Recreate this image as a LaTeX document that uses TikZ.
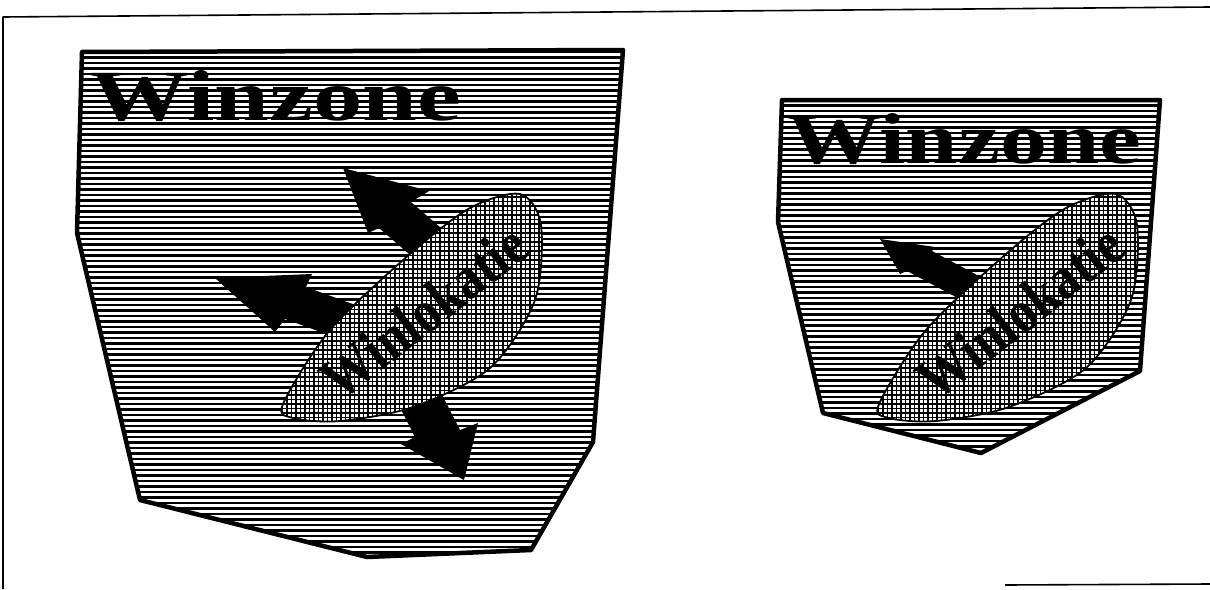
\documentclass[tikz,border=0pt]{standalone}
\usepackage{fontspec}
\newfontfamily\zonefont{Liberation Serif}

% outline of the location oval (left copy, in pixel units)
\newcommand{\lokshape}{plot[smooth cycle] coordinates {(283,404) (330,330) (410,254) (470,208) (520,194) (541,225) (535,300) (490,368) (413,407) (340,421) (293,418)}}

\begin{document}
\begin{tikzpicture}[x=1pt,y=-1pt,line join=round,
    rim/.style={line width=4.5pt},
    stripe/.style={line width=2.5pt},
    mesh/.style={line width=1.6pt},
    zonetext/.style={inner sep=0pt,anchor=base west,xscale=1.37,
      font=\zonefont\bfseries\fontsize{72}{72}\selectfont},
    loktext/.style={inner sep=0pt,rotate=38,xscale=0.86,
      font=\zonefont\bfseries\fontsize{60}{60}\selectfont}]

\useasboundingbox (0,0) rectangle (1210,589);

% ============================================
% Frame
% ============================================
\draw[line width=1.6pt] (3,589) -- (3,17) -- (1210,7);
\draw[line width=1.6pt] (1005,585) -- (1210,584);

% ============================================
% LEFT SIDE – LARGE ZONE WITH THREE ARROWS
% ============================================
        % Coordinates
        \coordinate (L1) at (82,52);
        \coordinate (L2) at (623,50);
        \coordinate (L3) at (593,442);
        \coordinate (L4) at (531,550);
        \coordinate (L5) at (367,557);
        \coordinate (L6) at (140,500);
        \coordinate (L7) at (77,233);
        % Striped fill
        \begin{scope}
          \clip (L1) -- (L2) -- (L3) -- (L4) -- (L5) -- (L6) -- (L7) -- cycle;
          \foreach \y in {52,57.5,...,562}
            \draw[stripe] (70,\y) -- (630,\y);
        \end{scope}
        \draw[rim] (L1) -- (L2) -- (L3) -- (L4) -- (L5) -- (L6) -- (L7) -- cycle;
        \node[zonetext] (zoneL) at (90,120) {Winzone};
        % Arrows (shafts end under the oval)
        \fill (343,168) -- (429,191) -- (411,202) -- (456,241)
              -- (424,267) -- (379,228) -- (368,233) -- cycle;
        \fill (215,278) -- (312,274) -- (306,287) -- (372,311)
              -- (351,343) -- (285,319) -- (275,332) -- cycle;
        \fill (464,480) -- (478,423) -- (460,430) -- (433,377)
              -- (388,384) -- (415,437) -- (401,444) -- cycle;
        % Location oval
        \fill[white] \lokshape;
        \begin{scope}
          \clip \lokshape;
          \foreach \x in {278,282.5,...,548}
            \draw[mesh] (\x,188) -- (\x,428);
          \foreach \y in {188,192.5,...,428}
            \draw[mesh] (278,\y) -- (548,\y);
        \end{scope}
        \draw[line width=1.8pt] \lokshape;
        \node[loktext] (lokL) at (424,312) {Winlokatie};

% ============================================
% RIGHT SIDE – SMALL ZONE WITH ONE ARROW
% ============================================
        % Coordinates
        \coordinate (R1) at (782,100);
        \coordinate (R2) at (1160,100);
        \coordinate (R3) at (1140,371);
        \coordinate (R4) at (981,453);
        \coordinate (R5) at (823,413);
        \coordinate (R6) at (778,222);
        % Striped fill
        \begin{scope}
          \clip (R1) -- (R2) -- (R3) -- (R4) -- (R5) -- (R6) -- cycle;
          \foreach \y in {100,105.5,...,458}
            \draw[stripe] (770,\y) -- (1170,\y);
        \end{scope}
        \draw[rim] (R1) -- (R2) -- (R3) -- (R4) -- (R5) -- (R6) -- cycle;
        \node[zonetext,xscale=0.955] (zoneR) at (787,163) {Winzone};
        % Arrow
        \fill (880,239) -- (935,247) -- (932,251) -- (994,284)
              -- (969,304) -- (907,271) -- (900,274) -- cycle;
        % Location oval, same as the left one
        \begin{scope}[shift={(596,0)}]
          \fill[white] \lokshape;
          \begin{scope}
            \clip \lokshape;
            \foreach \x in {278,282.5,...,548}
              \draw[mesh] (\x,188) -- (\x,428);
            \foreach \y in {188,192.5,...,428}
              \draw[mesh] (278,\y) -- (548,\y);
          \end{scope}
          \draw[line width=1.8pt] \lokshape;
          \node[loktext] (lokR) at (424,312) {Winlokatie};
        \end{scope}
\end{tikzpicture}
\end{document}
